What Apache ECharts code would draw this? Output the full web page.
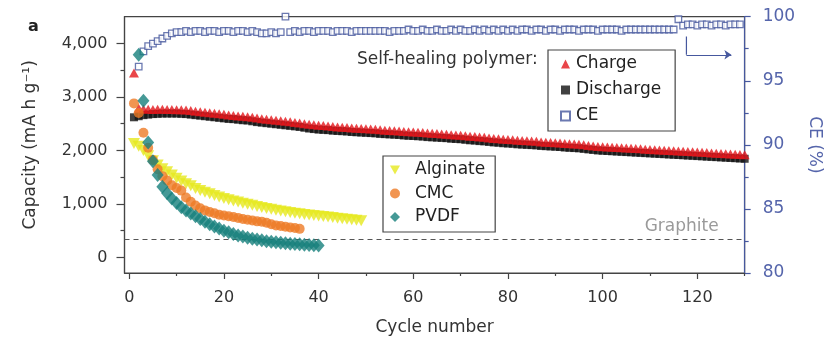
<!DOCTYPE html>
<html><head><meta charset="utf-8">
<script src="https://cdn.jsdelivr.net/npm/echarts@6/dist/echarts.min.js"></script>
<style>html,body{margin:0;padding:0;background:#fff}#c{width:831px;height:341px}</style>
</head><body><div id="c"></div>
<script>
// ---- data ----
const chargeStart = 1;
const chargeCap = [3450,2790,2775,2770,2765,2770,2770,2765,2765,2760,
2760,2755,2745,2735,2725,2715,2705,2695,2685,2675,
2665,2655,2645,2640,2630,2620,2605,2595,2585,2575,
2565,2555,2545,2535,2525,2515,2500,2490,2480,2470,
2465,2455,2450,2440,2435,2430,2420,2415,2410,2405,
2400,2395,2385,2380,2375,2370,2365,2355,2350,2345,
2340,2335,2325,2320,2315,2310,2305,2295,2290,2285,
2275,2265,2260,2250,2245,2235,2225,2220,2210,2205,
2200,2190,2185,2180,2175,2170,2160,2155,2150,2145,
2140,2130,2125,2120,2115,2105,2095,2085,2075,2070,
2065,2060,2055,2050,2045,2040,2035,2030,2025,2020,
2015,2010,2005,2000,1995,1990,1985,1980,1975,1970,
1965,1960,1955,1950,1945,1940,1935,1930,1925,1920];
const dischargeStart = 1;
const dischargeCap = [2620,2640,2660,2670,2680,2685,2690,2690,2690,2690,
2685,2680,2670,2660,2650,2640,2630,2620,2610,2600,
2590,2585,2575,2565,2560,2545,2530,2520,2510,2500,
2490,2480,2470,2460,2450,2440,2425,2410,2400,2390,
2385,2380,2370,2365,2360,2355,2345,2340,2335,2330,
2325,2320,2310,2305,2300,2295,2290,2280,2275,2270,
2265,2260,2250,2245,2240,2235,2230,2220,2215,2210,
2200,2190,2185,2175,2170,2160,2150,2145,2135,2130,
2125,2115,2110,2105,2100,2095,2085,2080,2075,2070,
2065,2055,2050,2045,2040,2030,2020,2010,2000,1995,
1990,1985,1980,1975,1970,1965,1960,1955,1950,1945,
1940,1935,1930,1925,1920,1915,1910,1905,1900,1895,
1890,1885,1880,1875,1870,1865,1860,1855,1850,1845];
const ceStart = 2;
const ceValues = [96.1,97.3,97.7,97.9,98.1,98.3,98.5,98.7,98.8,
98.8,98.9,98.8,98.9,98.9,98.8,98.9,98.9,98.8,98.9,
98.9,98.8,98.9,98.9,98.8,98.9,98.8,98.7,98.7,98.8,
98.7,98.8,100.0,98.8,98.9,98.8,98.9,98.9,98.8,98.9,
98.9,98.9,98.8,98.9,98.9,98.9,98.8,98.9,98.9,98.9,
98.9,98.9,98.9,98.9,98.8,98.9,98.9,98.9,99.0,98.9,
98.9,99.0,98.9,98.9,99.0,98.9,98.9,99.0,98.9,99.0,
98.9,98.9,99.0,98.9,99.0,98.9,99.0,98.9,99.0,98.9,
99.0,98.9,99.0,99.0,98.9,99.0,99.0,98.9,99.0,99.0,
98.9,99.0,99.0,99.0,98.9,99.0,99.0,99.0,98.9,99.0,
99.0,99.0,99.0,98.9,99.0,99.0,99.0,99.0,99.0,99.0,
99.0,99.0,99.0,99.0,99.0,99.8,99.3,99.4,99.4,99.3,
99.4,99.4,99.3,99.4,99.4,99.3,99.4,99.4,99.4];
const alginateStart = 1;
const alginateCap = [2130,2080,2000,1900,1810,1730,1660,1600,1540,1480,
1430,1380,1340,1290,1250,1220,1190,1160,1130,1100,
1080,1055,1035,1015,995,975,955,935,915,900,
885,870,855,840,825,815,805,795,785,775,
765,755,745,735,725,715,705,695,685];
const cmcStart = 1;
const cmcCap = [2880,2700,2330,2050,1820,1650,1520,1440,1350,1300,
1250,1120,1040,970,920,880,850,825,800,785,
770,755,740,720,705,690,675,670,650,620,
600,590,575,560,550,535];
const pvdfStart = 2;
const pvdfCap = [3790,2930,2150,1800,1540,1320,1200,1100,1020,
940,880,820,770,720,670,620,580,540,500,
470,440,410,390,370,350,335,320,305,295,
285,275,265,258,250,245,240,235,230,225];
const graphiteCap = 345;
const xMajorTicks = [0,20,40,60,80,100,120];
const xMinorTicks = [10,30,50,70,90,110,130];
const yMajorTicks = [0,1000,2000,3000,4000];
const yMinorTicks = [500,1500,2500,3500];
const arrowPath = [[117.7,98.46],[117.7,97.03]];
const arrowHead = [[117.7,97.03],[127.2,97.03]];

// ---- chart ----
const FF = 'DejaVu Sans';
const BLUE = '#46589e';
function pairs(start, arr){ return arr.map((v,i)=>[start+i, v]); }
function fmt(v){ return Number(v).toLocaleString('en-US'); }

const chart = echarts.init(document.getElementById('c'));
chart.setOption({
  animation:false,
  backgroundColor:'#fff',
  textStyle:{fontFamily:FF},
  title:[
    {text:'a', left:23, top:14, textStyle:{fontFamily:FF, fontSize:16, fontWeight:'bold', color:'#222'}},
    {text:'Self-healing polymer:', left:352, top:46, textStyle:{fontFamily:FF, fontSize:17, fontWeight:'normal', color:'#333'}}
  ],
  grid:{left:124.5, right:82.7, top:16.7, bottom:68, show:true, borderColor:'#444', borderWidth:1.2},
  legend:[
    {data:['Charge','Discharge','CE'], orient:'vertical', left:548, top:50, selectedMode:false,
     itemWidth:9, itemHeight:9, itemGap:8, padding:[5,14,6,12],
     borderColor:'#444', borderWidth:1.2, backgroundColor:'#fff',
     textStyle:{fontFamily:FF, fontSize:17, color:'#222', lineHeight:18, padding:[0,0,0,1]}},
    {data:['Alginate','CMC','PVDF'], orient:'vertical', left:383, top:156, selectedMode:false,
     itemWidth:10, itemHeight:10, itemGap:5.5, padding:[5,10,6,7],
     borderColor:'#444', borderWidth:1.2, backgroundColor:'#fff',
     textStyle:{fontFamily:FF, fontSize:17, color:'#222', lineHeight:18, padding:[0,0,0,10]}}
  ],
  xAxis:[
    {type:'value', min:-1, max:130, position:'bottom',
     axisLine:{show:true, onZero:false, lineStyle:{color:'#444', width:1.2}},
     axisTick:{show:true, length:6, customValues:xMajorTicks, lineStyle:{color:'#444', width:1.2}},
     axisLabel:{customValues:xMajorTicks, margin:17, fontSize:16, color:'#333', fontFamily:FF},
     splitLine:{show:false},
     name:'Cycle number', nameLocation:'middle', nameGap:46,
     nameTextStyle:{fontFamily:FF, fontSize:17, color:'#333'}},
    {type:'value', min:-1, max:130, position:'bottom',
     axisLine:{show:false, onZero:false},
     axisTick:{show:true, length:3, customValues:xMinorTicks, lineStyle:{color:'#444', width:1.2}},
     axisLabel:{show:false}, splitLine:{show:false}}
  ],
  yAxis:[
    {type:'value', min:-290, max:4500, position:'left',
     axisLine:{show:true, onZero:false, lineStyle:{color:'#444', width:1.2}},
     axisTick:{show:true, length:8, customValues:yMajorTicks, lineStyle:{color:'#444', width:1.2}},
     axisLabel:{customValues:yMajorTicks, formatter:fmt, margin:17, fontSize:16, color:'#333', fontFamily:FF},
     splitLine:{show:false},
     name:'Capacity (mA h g\u207B\u00B9)', nameLocation:'middle', nameRotate:90, nameGap:85,
     nameTextStyle:{fontFamily:FF, fontSize:17, color:'#333'}},
    {type:'value', min:80, max:100, interval:5, position:'right',
     axisLine:{show:true, onZero:false, lineStyle:{color:BLUE, width:1.2}},
     axisTick:{show:true, length:6, lineStyle:{color:BLUE, width:1.2}},
     minorTick:{show:true, splitNumber:2, length:4, lineStyle:{color:BLUE, width:1.2}},
     axisLabel:{margin:18, fontSize:17, color:'#5565ab', fontFamily:FF},
     splitLine:{show:false},
     name:'CE (%)', nameLocation:'middle', nameRotate:-90, nameGap:61,
     nameTextStyle:{fontFamily:FF, fontSize:17, color:'#5565ab'}},
    {type:'value', min:-290, max:4500, position:'left',
     axisLine:{show:false, onZero:false},
     axisTick:{show:true, length:4, customValues:yMinorTicks, lineStyle:{color:'#444', width:1.2}},
     axisLabel:{show:false}, splitLine:{show:false}}
  ],
  series:[
    {name:'CE', type:'scatter', xAxisIndex:0, yAxisIndex:1, data:pairs(ceStart, ceValues),
     symbol:'rect', symbolSize:6.5, itemStyle:{color:'#fff', borderColor:BLUE, borderWidth:1.3}, z:3},
    {name:'Discharge', type:'scatter', xAxisIndex:0, yAxisIndex:0, data:pairs(dischargeStart, dischargeCap),
     symbol:'rect', symbolSize:8, itemStyle:{color:'#111'}, z:3,
     markLine:{silent:true, symbol:'none', data:[{yAxis:graphiteCap}],
       lineStyle:{type:[5,4], color:'#555', width:1},
       label:{show:true, position:'insideEndTop', formatter:'Graphite', color:'#9a9a9a', fontSize:17, fontFamily:FF, distance:[26,4]}}},
    {name:'Charge', type:'scatter', xAxisIndex:0, yAxisIndex:0, data:pairs(chargeStart, chargeCap),
     symbol:'triangle', symbolSize:[10,9], itemStyle:{color:'#e3161b'}, z:4},
    {name:'Alginate', type:'scatter', xAxisIndex:0, yAxisIndex:0, data:pairs(alginateStart, alginateCap),
     symbol:'path://M0,0L10,0L5,9Z', symbolSize:[12,11], itemStyle:{color:'#e6e81e'}, z:5},
    {name:'CMC', type:'scatter', xAxisIndex:0, yAxisIndex:0, data:pairs(cmcStart, cmcCap),
     symbol:'circle', symbolSize:10, itemStyle:{color:'#ee7a26'}, z:6},
    {name:'PVDF', type:'scatter', xAxisIndex:0, yAxisIndex:0, data:pairs(pvdfStart, pvdfCap),
     symbol:'diamond', symbolSize:[12,14], itemStyle:{color:'#16807c'}, z:7},
    {name:'arrow', type:'line', xAxisIndex:0, yAxisIndex:1, data:arrowPath, symbol:'none', silent:true,
     lineStyle:{color:BLUE, width:1.2},
     markLine:{silent:true, symbol:['none','arrow'], symbolSize:7,
       data:[[{coord:arrowHead[0]},{coord:arrowHead[1]}]],
       lineStyle:{type:'solid', color:BLUE, width:1.2}, label:{show:false}}}
  ]
});
</script>
</body></html>
